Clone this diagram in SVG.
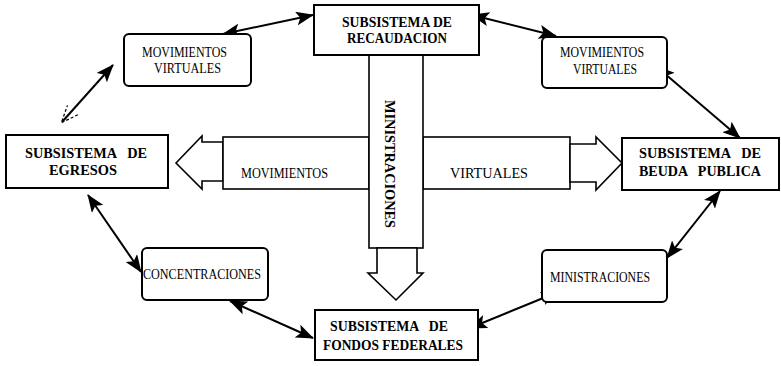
<svg xmlns="http://www.w3.org/2000/svg" width="781" height="366" viewBox="0 0 781 366">
<style>
  .box { fill: #fff; stroke: #000; stroke-width: 2; }
  .rbox { fill: #fff; stroke: #000; stroke-width: 2; }
  .blk { fill: #fff; stroke: #000; stroke-width: 1.6; stroke-linejoin: miter; }
  .t { font-family: "Liberation Serif", "Times New Roman", serif; font-weight: bold; font-size: 15px; fill: #000; text-anchor: middle; }
  .s { font-family: "Liberation Serif", "Times New Roman", serif; font-size: 14px; fill: #000; text-anchor: middle; }
  .c { fill: none; stroke: #000; stroke-width: 2; }
</style>
<defs>
  <marker id="ah" markerUnits="userSpaceOnUse" markerWidth="19" markerHeight="14" refX="17" refY="7" orient="auto-start-reverse">
    <path d="M0,0 L18,7 L0,14 L4,7 z" fill="#000"/>
  </marker>
  <marker id="ahf" markerUnits="userSpaceOnUse" markerWidth="20" markerHeight="16" refX="17" refY="8" orient="auto-start-reverse">
    <path d="M1,1 L18,8 L1,15" fill="none" stroke="#000" stroke-width="1.2" stroke-dasharray="3 2"/>
  </marker>
</defs>

<g id="connectors">
  <line class="c" x1="62" y1="122" x2="113" y2="65" marker-start="url(#ahf)" marker-end="url(#ah)"/>
  <line class="c" x1="223" y1="34" x2="313" y2="15" marker-start="url(#ah)" marker-end="url(#ah)"/>
  <line class="c" x1="472" y1="15" x2="556" y2="36" marker-start="url(#ah)" marker-end="url(#ah)"/>
  <line class="c" x1="657" y1="67" x2="740" y2="138" marker-start="url(#ah)" marker-end="url(#ah)"/>
  <line class="c" x1="720" y1="191" x2="667" y2="258" marker-start="url(#ah)" marker-end="url(#ah)"/>
  <line class="c" x1="558" y1="292" x2="470" y2="328" marker-start="url(#ah)" marker-end="url(#ah)"/>
  <line class="c" x1="230" y1="301" x2="313" y2="338" marker-start="url(#ah)" marker-end="url(#ah)"/>
  <line class="c" x1="88" y1="195" x2="141" y2="272" marker-start="url(#ah)" marker-end="url(#ah)"/>
</g>

<g id="flow-movimientos-virtuales">
  <polygon class="blk" points="176,163 202,136 202,142 223,142 223,181 202,181 202,189"/>
  <rect class="blk" x="223" y="137" width="146" height="52"/>
  <rect class="blk" x="423" y="137" width="147" height="52"/>
  <polygon class="blk" points="570,144 596,144 596,137 622,163 596,190 596,182 570,182"/>
  <text class="s" x="284.5" y="178" font-size="15" textLength="87" lengthAdjust="spacingAndGlyphs">MOVIMIENTOS</text>
  <text class="s" x="489" y="178" font-size="15" textLength="78" lengthAdjust="spacingAndGlyphs">VIRTUALES</text>
</g>

<g id="flow-ministraciones">
  <rect class="blk" x="369" y="55" width="54" height="193"/>
  <polygon class="blk" points="377,248 417,248 417,273 423,273 396,300 368,273 377,273"/>
  <text class="t" transform="translate(385,164) rotate(90)" x="0" y="0" textLength="128" lengthAdjust="spacingAndGlyphs">MINISTRACIONES</text>
</g>

<g id="recaudacion">
  <rect class="box" x="314" y="5" width="165" height="50"/>
  <text class="t" x="397" y="27" textLength="110" lengthAdjust="spacingAndGlyphs">SUBSISTEMA DE</text>
  <text class="t" x="397" y="43" textLength="100" lengthAdjust="spacingAndGlyphs">RECAUDACION</text>
</g>

<g id="egresos">
  <rect class="box" x="6" y="135" width="162" height="53"/>
  <text class="t" x="86" y="158" xml:space="preserve" textLength="122" lengthAdjust="spacingAndGlyphs">SUBSISTEMA   DE</text>
  <text class="t" x="83" y="175" textLength="68" lengthAdjust="spacingAndGlyphs">EGRESOS</text>
</g>

<g id="deuda-publica">
  <rect class="box" x="622" y="138" width="157" height="52"/>
  <text class="t" x="700" y="158" xml:space="preserve" textLength="122" lengthAdjust="spacingAndGlyphs">SUBSISTEMA   DE</text>
  <text class="t" x="700" y="176" xml:space="preserve" textLength="122" lengthAdjust="spacingAndGlyphs">BEUDA   PUBLICA</text>
</g>

<g id="fondos-federales">
  <rect class="box" x="315" y="310" width="163" height="50"/>
  <text class="t" x="389" y="331" xml:space="preserve" textLength="118" lengthAdjust="spacingAndGlyphs">SUBSISTEMA   DE</text>
  <text class="t" x="393" y="350" textLength="140" lengthAdjust="spacingAndGlyphs">FONDOS FEDERALES</text>
</g>

<g id="movimientos-virtuales-izq">
  <rect class="rbox" x="124" y="34" width="127" height="52" rx="5"/>
  <text class="s" x="184.5" y="57" textLength="85" lengthAdjust="spacingAndGlyphs">MOVIMIENTOS</text>
  <text class="s" x="187.5" y="73" textLength="67" lengthAdjust="spacingAndGlyphs">VIRTUALES</text>
</g>

<g id="movimientos-virtuales-der">
  <rect class="rbox" x="542" y="37" width="125" height="51" rx="5"/>
  <text class="s" x="602" y="57" textLength="84" lengthAdjust="spacingAndGlyphs">MOVIMIENTOS</text>
  <text class="s" x="605" y="74" textLength="64" lengthAdjust="spacingAndGlyphs">VIRTUALES</text>
</g>

<g id="concentraciones">
  <rect class="rbox" x="142" y="248" width="126" height="52" rx="5"/>
  <text class="s" x="202" y="279" textLength="118" lengthAdjust="spacingAndGlyphs">CONCENTRACIONES</text>
</g>

<g id="ministraciones">
  <rect class="rbox" x="542" y="250" width="125" height="52" rx="5"/>
  <text class="s" x="600" y="282" textLength="100" lengthAdjust="spacingAndGlyphs">MINISTRACIONES</text>
</g>
</svg>
